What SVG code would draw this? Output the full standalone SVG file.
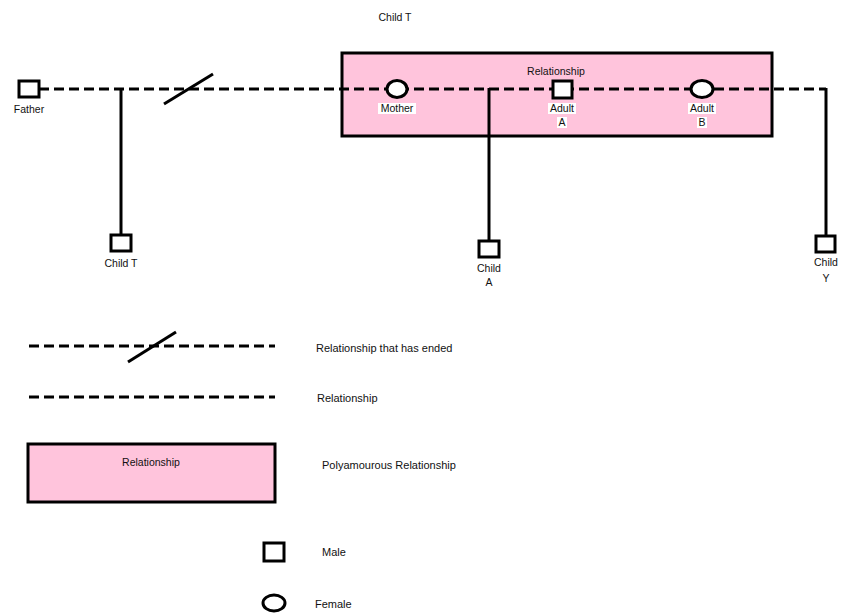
<svg xmlns="http://www.w3.org/2000/svg" width="843" height="614" viewBox="0 0 843 614">
<style>
text{font-family:"Liberation Sans",Arial,sans-serif;font-size:10.5px;fill:#111;text-anchor:middle}
.l{text-anchor:start;font-size:11px}
.dash{stroke:#000;stroke-width:3;stroke-dasharray:10 5;fill:none}
.solid{stroke:#000;stroke-width:3;fill:none}
.node{fill:#fff;stroke:#000;stroke-width:3}
.poly{fill:#ffc4dc;stroke:#000;stroke-width:3}
.bg{fill:#fff}
</style>
<rect width="843" height="614" fill="#fff"/>
<text x="395" y="21">Child T</text>
<g id="polybox"><rect class="poly" x="342" y="53" width="430" height="83"/><text x="556" y="75">Relationship</text></g>
<g id="connectors">
<line class="dash" x1="39" y1="89" x2="826" y2="89"/>
<line class="solid" x1="121" y1="88" x2="121" y2="236"/>
<line class="solid" x1="489" y1="88" x2="489" y2="241"/>
<line class="solid" x1="826" y1="88" x2="826" y2="236"/>
<line class="solid" x1="164" y1="104" x2="213" y2="74"/>
</g>
<g id="father"><rect class="node" x="19" y="81" width="20" height="16"/><text x="29" y="113">Father</text></g>
<g id="mother"><ellipse class="node" cx="397" cy="89" rx="10" ry="8.5"/><rect class="bg" x="378" y="103" width="38" height="11"/><text x="397" y="112">Mother</text></g>
<g id="adultA"><rect class="node" x="553" y="81" width="19" height="17"/><rect class="bg" x="548" y="103" width="28" height="11"/><rect class="bg" x="557" y="117" width="10" height="11"/><text x="562" y="112">Adult</text><text x="562" y="126">A</text></g>
<g id="adultB"><ellipse class="node" cx="702" cy="89" rx="11" ry="8.5"/><rect class="bg" x="688" y="103" width="28" height="11"/><rect class="bg" x="697" y="117" width="10" height="11"/><text x="702" y="112">Adult</text><text x="702" y="126">B</text></g>
<g id="childT"><rect class="node" x="111" y="235" width="20" height="16"/><text x="121" y="267">Child T</text></g>
<g id="childA"><rect class="node" x="479" y="241" width="20" height="16"/><text x="489" y="272">Child</text><text x="489" y="286">A</text></g>
<g id="childY"><rect class="node" x="816" y="236" width="19" height="16"/><text x="826" y="266">Child</text><text x="826" y="282">Y</text></g>
<g id="legend">
<line class="dash" x1="29" y1="346" x2="275" y2="346"/>
<line class="solid" x1="128" y1="362" x2="176" y2="332"/>
<text class="l" x="316" y="352">Relationship that has ended</text>
<line class="dash" x1="29" y1="397" x2="275" y2="397"/>
<text class="l" x="317" y="402">Relationship</text>
<rect class="poly" x="28" y="444" width="247" height="58"/>
<text x="151" y="466">Relationship</text>
<text class="l" x="322" y="469">Polyamourous Relationship</text>
<rect class="node" x="264" y="543" width="20" height="18"/>
<text class="l" x="322" y="556">Male</text>
<ellipse class="node" cx="274" cy="603" rx="11" ry="8"/>
<text class="l" x="315" y="608">Female</text>
</g>
</svg>
